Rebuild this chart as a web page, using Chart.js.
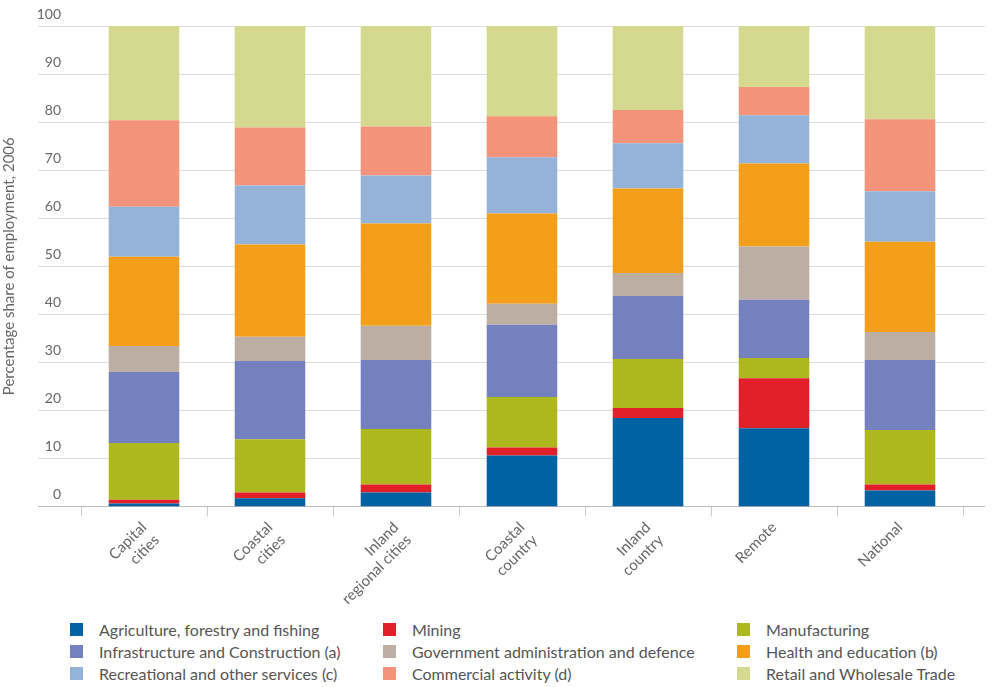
<!DOCTYPE html>
<html>
<head>
<meta charset="utf-8">
<script src="https://cdn.jsdelivr.net/npm/chart.js@4"></script>
<style>
  body { margin: 0; background: #fff; font-family: "Lato", sans-serif; }
  #wrap { position: relative; width: 995px; height: 610px; }
  #legend { position: absolute; left: 0; top: 620px; width: 995px; font-size: 16px; color: #555; }
  .item { position: absolute; display: flex; align-items: center; }
  .box { width: 13px; height: 13px; margin-right: 16px; }
</style>
</head>
<body>
<div id="wrap"><canvas id="chart"></canvas></div>
<div id="legend"></div>
<script>
const categories = [['Capital', 'cities'], ['Coastal', 'cities'], ['Inland', 'regional cities'], ['Coastal', 'country'], ['Inland', 'country'], 'Remote', 'National'];
const seriesNames = ['Agriculture, forestry and fishing', 'Mining', 'Manufacturing',
  'Infrastructure and Construction (a)', 'Government administration and defence', 'Health and education (b)',
  'Recreational and other services (c)', 'Commercial activity (d)', 'Retail and Wholesale Trade'];
const seriesColors = ['#0061a3', '#e2202a', '#adb81e', '#7580be', '#bcaea2', '#f49f1a', '#95b3d8', '#f2937a', '#d4d98f'];

const agriculture = [0.6, 1.7, 2.9, 10.6, 18.4, 16.3, 3.3];
const mining = [0.8, 1.2, 1.7, 1.7, 2.1, 10.4, 1.3];
const manufacturing = [11.8, 11.1, 11.5, 10.5, 10.2, 4.2, 11.3];
const infrastructure = [14.8, 16.3, 14.4, 15.0, 13.1, 12.1, 14.6];
const government = [5.4, 5.0, 7.1, 4.4, 4.8, 11.1, 5.8];
const health = [18.6, 19.2, 21.3, 18.8, 17.6, 17.3, 18.8];
const recreational = [10.4, 12.3, 10.0, 11.7, 9.4, 10.0, 10.5];
const commercial = [18.0, 12.1, 10.2, 8.5, 6.9, 5.9, 15.0];
const retail = [19.6, 21.1, 20.9, 18.8, 17.5, 12.7, 19.4];
const yTicks = [0, 10, 20, 30, 40, 50, 60, 70, 80, 90, 100];

const seriesValues = [agriculture, mining, manufacturing, infrastructure, government, health, recreational, commercial, retail];

// horizontal grid drawn wider than the plot area, as in the original
const wideGrid = {
  id: 'wideGrid',
  beforeDatasetsDraw(chart) {
    const ctx = chart.ctx;
    const y = chart.scales.y;
    ctx.save();
    yTicks.forEach(v => {
      const py = Math.round(y.getPixelForValue(v)) + 0.5;
      ctx.strokeStyle = v === 0 ? '#bbbbbb' : '#dddddd';
      ctx.lineWidth = 1;
      ctx.beginPath();
      ctx.moveTo(38, py);
      ctx.lineTo(985, py);
      ctx.stroke();
    });
    ctx.restore();
  }
};

new Chart(document.getElementById('chart'), {
  type: 'bar',
  data: {
    labels: categories,
    datasets: seriesValues.map((vals, i) => ({
      label: seriesNames[i],
      data: vals,
      backgroundColor: seriesColors[i],
      borderWidth: 0,
      categoryPercentage: 0.56,
      barPercentage: 1
    }))
  },
  options: {
    responsive: true,
    maintainAspectRatio: false,
    animation: false,
    layout: { padding: { top: 26, right: 32, left: 0, bottom: 0 } },
    plugins: { legend: { display: false }, tooltip: { enabled: false } },
    scales: {
      x: {
        stacked: true,
        offset: true,
        border: { display: false },
        grid: { offset: true, drawOnChartArea: false, tickLength: 10, color: '#cccccc' },
        ticks: { color: '#666', font: { size: 15, family: 'Lato' }, minRotation: 45, maxRotation: 45, padding: 2 }
      },
      y: {
        stacked: true,
        min: 0,
        max: 100,
        afterFit: s => { s.width = 81; },
        border: { display: false },
        grid: { display: false },
        ticks: { stepSize: 10, color: '#666', font: { size: 14, family: 'Lato' }, labelOffset: -12, padding: 12 },
        title: { display: true, text: 'Percentage share of employment, 2006', color: '#666', font: { size: 15, family: 'Lato' }, padding: 0 }
      }
    }
  },
  plugins: [wideGrid]
});

// legend: 3 columns
const legend = document.getElementById('legend');
const colX = [70, 383, 737];
seriesNames.forEach((name, i) => {
  const el = document.createElement('div');
  el.className = 'item';
  el.style.left = colX[i % 3] + 'px';
  el.style.top = (Math.floor(i / 3) * 22) + 'px';
  el.innerHTML = '<span class="box" style="background:' + seriesColors[i] + '"></span>' + name;
  legend.appendChild(el);
});
</script>
</body>
</html>
